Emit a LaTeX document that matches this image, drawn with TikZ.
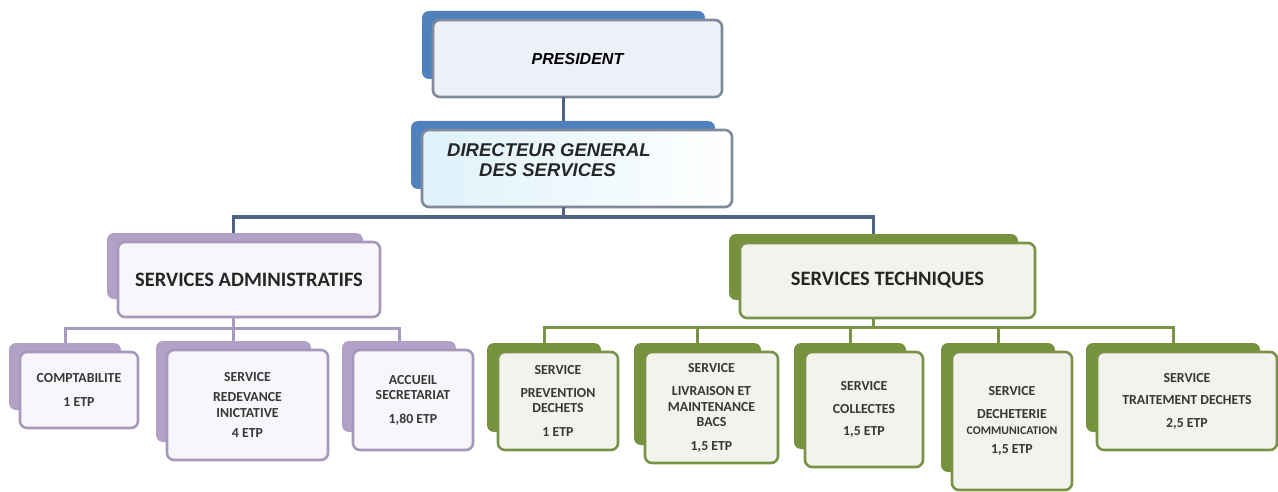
\documentclass[tikz,border=0pt]{standalone}
\usepackage{fontspec}
\setmainfont{Carlito}
\newfontfamily\arialf{Liberation Sans}
\definecolor{bback}{RGB}{79,129,189}
\definecolor{pback}{RGB}{178,161,199}
\definecolor{gback}{RGB}{118,146,60}
\definecolor{tfront}{RGB}{128,138,155}
\definecolor{pfront}{RGB}{165,152,186}
\definecolor{gfront}{RGB}{122,146,72}
\definecolor{presfill}{RGB}{238,240,248}
\definecolor{dgfill}{RGB}{222,242,250}
\definecolor{pfill}{RGB}{248,246,250}
\definecolor{gfill}{RGB}{243,243,237}
\definecolor{bconn}{RGB}{78,100,130}
\definecolor{pconn}{RGB}{168,154,192}
\definecolor{gconn}{RGB}{122,148,70}
\definecolor{txt}{RGB}{55,55,55}
\tikzset{
  backbox/.style={fill=#1, draw=none, rounded corners=7pt, inner sep=0pt, outer sep=0pt},
  frontbox/.style 2 args={fill=#2, draw=#1, line width=2.6pt, rounded corners=7pt, inner sep=2pt, outer sep=0pt, align=center},
  topbox/.style={frontbox={tfront}{presfill}},
  dgbox/.style={frontbox={tfront}{white}, left color=dgfill, right color=white},
  purplebox/.style={frontbox={pfront}{pfill}, text=txt, font=\fontsize{13.8}{15.5}\selectfont\bfseries},
  greenbox/.style={frontbox={gfront}{gfill}, text=txt, font=\fontsize{13.8}{15.5}\selectfont\bfseries},
  headp/.style={frontbox={pfront}{pfill}, text=black!85, font=\fontsize{20.5}{23}\selectfont\bfseries},
  headg/.style={frontbox={gfront}{gfill}, text=black!85, font=\fontsize{20.5}{23}\selectfont\bfseries},
  bline/.style={draw=bconn, line width=3pt},
  pline/.style={draw=pconn, line width=3pt},
  gline/.style={draw=gconn, line width=3pt},
}
% #1 name, #2 x1, #3 y1, #4 x2, #5 y2 (front box), #6 back colour, #7 front style, #8 text
\newcommand{\orgbox}[8]{%
  \node[backbox=#6, anchor=north west, minimum width={(#4-#2-6)*1pt}, minimum height={(#5-#3-9)*1pt}] (#1b) at (#2-11,#3-9) {};
  \node[#7, anchor=north west, minimum width={(#4-#2)*1pt}, minimum height={(#5-#3)*1pt}] (#1) at (#2,#3) {#8};
}
\begin{document}
\begin{tikzpicture}[x=1pt,y=-1pt]
\useasboundingbox[fill=white] (0,0) rectangle (1278,492);

% top level
\orgbox{pres}{433}{20}{722}{97}{bback}{topbox}{\arialf\fontsize{16}{19}\selectfont\bfseries\itshape PRESIDENT}
\orgbox{dg}{422}{130}{732}{207}{bback}{dgbox}{}
\node[anchor=north west, inner sep=0pt, align=left, text=black!85,
      font=\arialf\fontsize{18.5}{20}\selectfont\bfseries\itshape] (dgt) at (447,143)
      {DIRECTEUR GENERAL\\\hspace*{32pt}DES SERVICES};

% second level
\orgbox{sa}{118}{242}{380}{317}{pback}{headp}{SERVICES ADMINISTRATIFS}
\orgbox{st}{740}{243}{1035}{318}{gback}{headg}{SERVICES TECHNIQUES}

% administrative services
\orgbox{comp}{20}{352}{138}{428}{pback}{purplebox}{COMPTABILITE\\[8pt]1 ETP}
\orgbox{red}{167}{350}{328}{460}{pback}{purplebox}{SERVICE\\[5pt]REDEVANCE\\INICTATIVE\\[5pt]4 ETP}
\orgbox{acc}{353}{350}{473}{450}{pback}{purplebox}{ACCUEIL\\SECRETARIAT\\[8pt]1,80 ETP}

% technical services
\orgbox{prev}{498}{352}{618}{450}{gback}{greenbox}{SERVICE\\[7pt]PREVENTION\\DECHETS\\[8pt]1 ETP}
\orgbox{liv}{645}{352}{778}{463}{gback}{greenbox}{SERVICE\\[8pt]LIVRAISON ET\\MAINTENANCE\\BACS\\[8pt]1,5 ETP}
\orgbox{col}{805}{352}{923}{467}{gback}{greenbox}{SERVICE\\[7pt]COLLECTES\\[7pt]1,5 ETP}
\orgbox{dec}{952}{352}{1072}{490}{gback}{greenbox}{SERVICE\\[8pt]DECHETERIE\\{\fontsize{11.8}{15.5}\selectfont COMMUNICATION}\\[4pt]1,5 ETP}
\orgbox{trt}{1097}{352}{1277}{450}{gback}{greenbox}{SERVICE\\[7pt]TRAITEMENT DECHETS\\[7pt]2,5 ETP}

% connectors, top
\coordinate (busM) at (563,217);
\coordinate (busL) at (233,217);
\coordinate (busR) at (873,217);
\draw[bline] ([xshift=-14pt]pres.south) -- ([xshift=-14pt]pres.south |- dgb.north);
\draw[bline] (dg.south -| busM) -- (busM);
\draw[bline] (busL |- sab.north) -- (busL) -- (busR) -- (busR |- stb.north);

% connectors, administrative
\coordinate (sabus) at (233,328);
\draw[pline] (sa.south -| sabus) -- (sabus |- redb.north);
\draw[pline] (compb.north) |- (sabus) -| (accb.north);

% connectors, technical
\coordinate (stbus) at (873,327);
\draw[gline] (st.south -| stbus) -- (stbus);
\draw[gline] (prevb.north) |- (stbus) -| (trtb.north);
\draw[gline] (livb.north) -- (livb.north |- stbus);
\draw[gline] (colb.north) -- (colb.north |- stbus);
\draw[gline] (decb.north) -- (decb.north |- stbus);
\end{tikzpicture}
\end{document}
